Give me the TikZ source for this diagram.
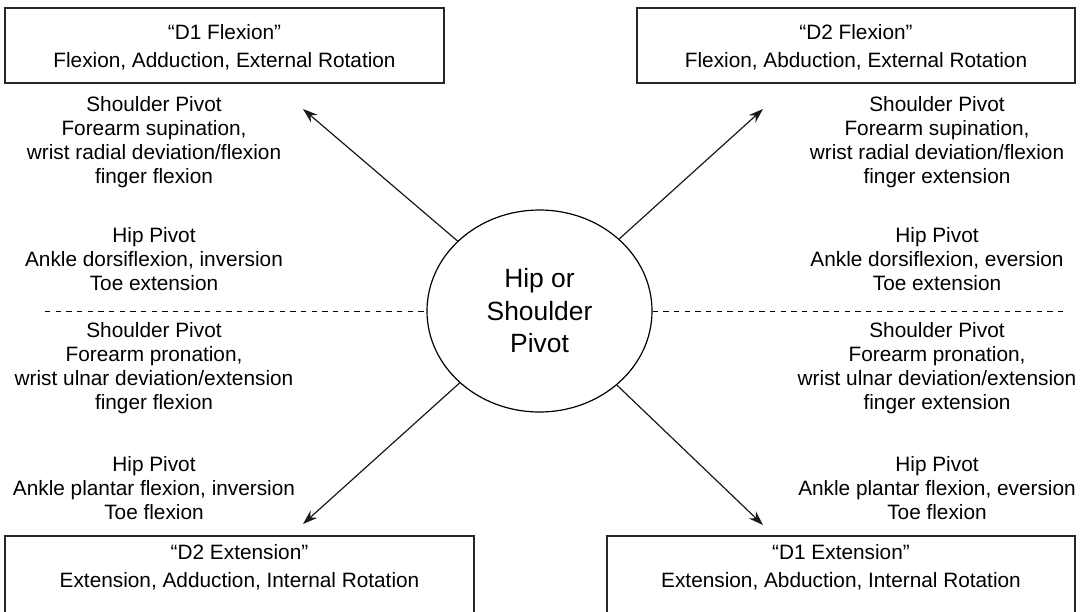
\documentclass[tikz,border=0pt]{standalone}
\usepackage{fontspec}
\setmainfont{Liberation Sans}
\usetikzlibrary{arrows.meta, positioning, shapes.geometric}

\begin{document}
\begin{tikzpicture}[x=0.75pt, y=-0.75pt, >={Stealth[length=11pt, width=7.5pt]},
            box/.style={draw=black!85, line width=1.1pt, rectangle, minimum height=56.25pt, inner sep=0pt},
            boxtext/.style={align=center, inner sep=0pt, font=\fontsize{15.6}{21}\selectfont},
            note/.style={align=center, inner sep=0pt, font=\fontsize{15.6}{18}\selectfont},
            arr/.style={->, line width=0.9pt, black!90}]

            \useasboundingbox (0,0) rectangle (1088,611);
            \clip (0,0) rectangle (1088,611);

            % ===== pattern boxes =====
            \node[box, minimum width=329.25pt] (d1flex) at (224.5,45.5) {};
            \node[box, minimum width=328.5pt] (d2flex) at (856,45.5) {};
            \node[box, minimum width=351.75pt, minimum height=58.5pt] (d2ext) at (239.5,575) {};
            \node[box, minimum width=351pt, minimum height=58.5pt] (d1ext) at (841,575) {};

            \node[boxtext] (d1flextxt) at (224.5,47.5) {“D1 Flexion”\\Flexion, Adduction, External Rotation};
            \node[boxtext] (d2flextxt) at (856,47.5) {“D2 Flexion”\\Flexion, Abduction, External Rotation};
            \node[boxtext] (d2exttxt) at (239.5,567.5) {“D2 Extension”\\Extension, Adduction, Internal Rotation};
            \node[boxtext] (d1exttxt) at (841,567.5) {“D1 Extension”\\Extension, Abduction, Internal Rotation};

            % ===== pivot =====
            \node[draw, ellipse, line width=0.9pt, minimum width=168.75pt, minimum height=151.5pt,
                  inner sep=0pt, align=center, font=\fontsize{19.8}{24.4}\selectfont] (pivot) at (539.5,311)
                  {Hip or\\Shoulder\\Pivot};

            % ===== left notes =====
            \node[note] (lsh) at (154,142) {Shoulder Pivot\\Forearm supination,\\wrist radial deviation/flexion\\finger flexion};
            \node[note] (lhip) at (154,259) {Hip Pivot\\Ankle dorsiflexion, inversion\\Toe extension};
            \node[note] (lsh2) at (154,368) {Shoulder Pivot\\Forearm pronation,\\wrist ulnar deviation/extension\\finger flexion};
            \node[note] (lhip2) at (154,488) {Hip Pivot\\Ankle plantar flexion, inversion\\Toe flexion};

            % ===== right notes =====
            \node[note] (rsh) at (937,142) {Shoulder Pivot\\Forearm supination,\\wrist radial deviation/flexion\\finger extension};
            \node[note] (rhip) at (937,259) {Hip Pivot\\Ankle dorsiflexion, eversion\\Toe extension};
            \node[note] (rsh2) at (937,368) {Shoulder Pivot\\Forearm pronation,\\wrist ulnar deviation/extension\\finger extension};
            \node[note] (rhip2) at (937,488) {Hip Pivot\\Ankle plantar flexion, eversion\\Toe flexion};

            % ===== arrow tips and dashed ends =====
            \coordinate (tl) at (303,109);
            \coordinate (tr) at (763,109);
            \coordinate (bl) at (303,524);
            \coordinate (br) at (763,525);
            \coordinate (dl) at (45,311);
            \coordinate (dr) at (1065,311);

            \draw[arr] (pivot) -- (tl);
            \draw[arr] (pivot) -- (tr);
            \draw[arr] (pivot) -- (bl);
            \draw[arr] (pivot) -- (br);

            \draw[dash pattern=on 4pt off 4pt, line width=0.75pt] (dl) -- (pivot.west);
            \draw[dash pattern=on 4pt off 4pt, line width=0.75pt] (pivot.east) -- (dr);
        \end{tikzpicture}
\end{document}
